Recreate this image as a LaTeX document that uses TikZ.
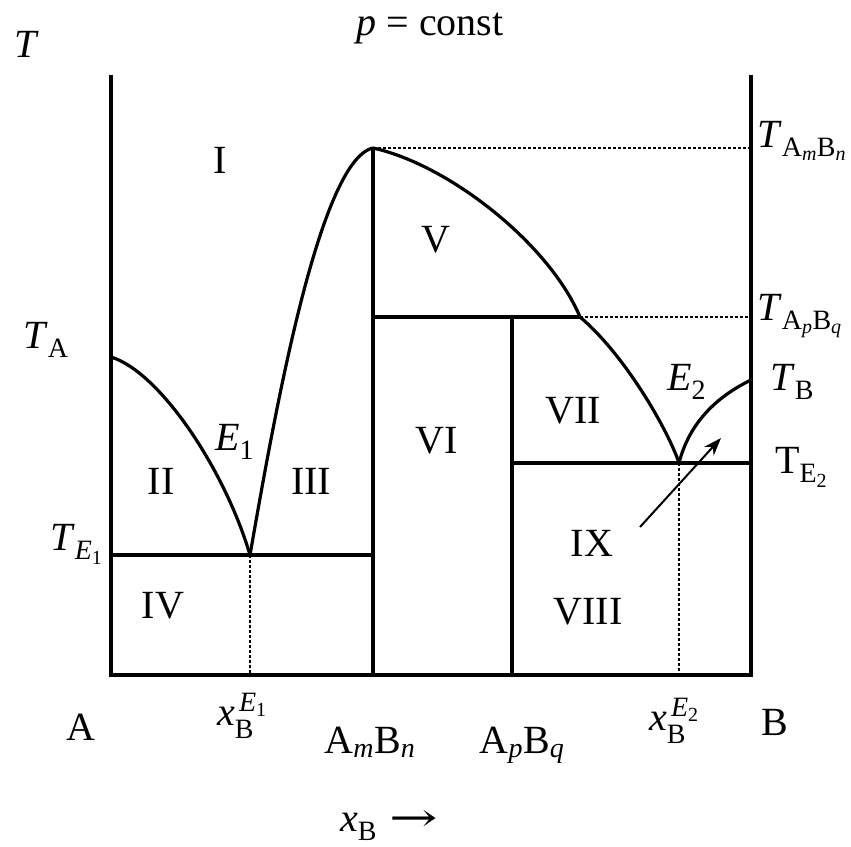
\documentclass[tikz,border=0pt]{standalone}
\usepackage{amsmath}
\usepackage{fontspec}
\setmainfont{Liberation Serif}
\newfontfamily\arrowfont{DejaVu Serif}
\usetikzlibrary{arrows.meta}
\newcommand{\ti}[1]{\text{\textit{#1}}}
\newcommand{\tr}[1]{\text{#1}}
\begin{document}
\begin{tikzpicture}[x=1pt,y=-1pt,
  lbl/.style={inner sep=0pt,font=\fontsize{40}{44}\selectfont},
  bw/.style={lbl,anchor=base west},
  thick line/.style={line width=3.2pt},
  curve/.style={line width=3.2pt},
  dline/.style={line width=1.2pt,dash pattern=on 3pt off 2pt}]
\useasboundingbox (0,0) rectangle (851,846);
% frame
\coordinate (LT) at (111,75);
\coordinate (LB) at (111,675);
\coordinate (RT) at (751,75);
\coordinate (RB) at (751,675);
\coordinate (TA) at (111,357);
\coordinate (TB) at (751,380);
\coordinate (E1) at (250,555);
\coordinate (E2) at (679,463);
\coordinate (P) at (373,148);
\coordinate (M) at (580,317);
\coordinate (Ml) at (373,317);
\coordinate (TE1) at (111,555);
\coordinate (TE1r) at (373,555);
\coordinate (Mb) at (373,675);
\coordinate (Q) at (512,317);
\coordinate (Qb) at (512,675);
\coordinate (TE2l) at (512,463);
\coordinate (TE2r) at (751,463);
\coordinate (E1b) at (250,675);
\coordinate (E2b) at (679,675);
\coordinate (Pr) at (751,148);
\coordinate (Mr) at (751,317);
\draw[thick line] (LT) -- (LB) -- (RB) -- (RT);
\draw[thick line] (P) -- (Mb);
\draw[thick line] (Q) -- (Qb);
\draw[thick line] (Ml) -- (M);
\draw[thick line] (TE1) -- (TE1r);
\draw[thick line] (TE2l) -- (TE2r);
\draw[dline] (P) -- (Pr);
\draw[dline] (M) -- (Mr);
\draw[dline] (E1) -- (E1b);
\draw[dline] (E2) -- (E2b);
% curves
\draw[curve] (TA) .. controls (160,372) and (225,470) .. (E1);
\draw[curve] (E1) .. controls (272,430) and (318,160) .. (P);
\draw[curve] (P) .. controls (450,165) and (550,245) .. (M);
\draw[curve] (M) .. controls (625,355) and (668,430) .. (E2);
\draw[curve] (E2) .. controls (690,420) and (720,395) .. (TB);
% arrow
\coordinate (A0) at (640,527);
\coordinate (A1) at (721,438);
\draw[line width=2pt,-{Stealth[length=18pt,width=13pt]}] (A0) -- (A1);
% labels
\node[bw] (lT) at (14,57) {\textit{T}};
\node[lbl,anchor=base] (lp) at (430,35) {\textit{p} = const};
\node[lbl] (l1) at (220,160) {I};
\node[lbl] (l5) at (436,240) {V};
\node[lbl] (l6) at (437,441) {VI};
\node[lbl] (l7) at (573,411) {VII};
\node[lbl] (l2) at (161,481) {II};
\node[lbl] (l3) at (311,481) {III};
\node[lbl] (l9) at (592,543) {IX};
\node[lbl] (l4) at (163,606) {IV};
\node[lbl] (l8) at (588,612) {VIII};
\node[bw] (lE1) at (215,450) {$\ti{E}_{\tr{1}}$};
\node[bw] (lE2) at (667,390) {$\ti{E}_{\tr{2}}$};
\node[bw] (lTA) at (23,348) {$\ti{T}_{\tr{A}}$};
\node[bw] (lTE1) at (50,550) {$\ti{T}_{\ti{E}_{\tr{1}}}$};
\node[bw] (lTAmBn) at (757,147) {$\ti{T}_{\tr{A}_{\ti{m}}\tr{B}_{\ti{n}}}$};
\node[bw] (lTApBq) at (757,320) {$\ti{T}_{\tr{A}_{\ti{p}}\tr{B}_{\ti{q}}}$};
\node[bw] (lTB) at (770,390) {$\ti{T}_{\tr{B}}$};
\node[bw] (lTE2) at (775,473) {$\tr{T}_{\tr{E}_{\tr{2}}}$};
\node[bw] (lA) at (66,740) {A};
\node[bw] (lB) at (761,735) {B};
\node[bw] (lxE1) at (217,725) {$\ti{x}_{\tr{B}}^{\,\ti{E}_{\tr{1}}}$};
\node[bw] (lxE2) at (649,730) {$\ti{x}_{\tr{B}}^{\,\ti{E}_{\tr{2}}}$};
\node[lbl,anchor=base] (lAmBn) at (370,753) {A$_{\ti{m}}$B$_{\ti{n}}$};
\node[lbl,anchor=base] (lApBq) at (522,753) {A$_{\ti{p}}$B$_{\ti{q}}$};
\node[bw] (lxB) at (340,831) {$\ti{x}_{\tr{B}}$\hspace{12pt}\scalebox{1.45}[1]{\arrowfont →}};
\end{tikzpicture}
\end{document}
